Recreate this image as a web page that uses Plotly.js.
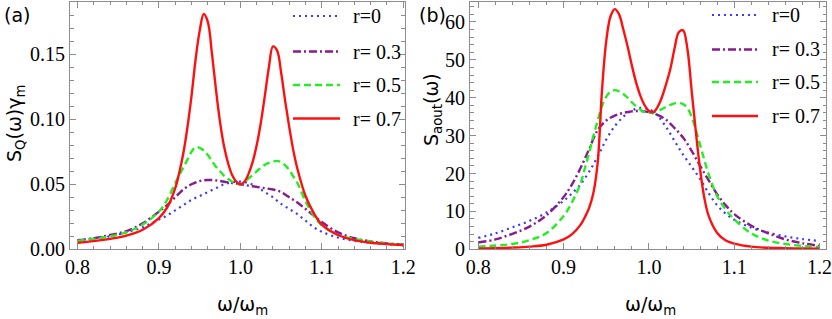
<!DOCTYPE html>
<html>
<head>
<meta charset="utf-8">
<script src="https://cdn.plot.ly/plotly-3.0.1.min.js"></script>
<style>
html,body{margin:0;padding:0;background:#fff;}
#chart{position:absolute;left:0;top:0;width:832px;height:319px;}
</style>
</head>
<body>
<div id="chart"></div>
<script>
// ---- data ----
const seriesNames = ["r=0", "r= 0.3", "r= 0.5", "r= 0.7"];
const xCoarse = [0.80,0.82,0.84,0.86,0.88,0.90,0.91,0.92,0.93,0.94,0.95,0.96,0.97,0.98,0.99,1.00,1.01,1.02,1.03,1.04,1.05,1.06,1.07,1.08,1.09,1.10,1.12,1.14,1.16,1.18,1.20];
const xFine = [0.80,0.82,0.84,0.86,0.88,0.90,0.91,0.92,0.925,0.93,0.935,0.94,0.945,0.95,0.955,0.96,0.965,0.97,0.975,0.98,0.985,0.99,0.995,1.00,1.005,1.01,1.015,1.02,1.025,1.03,1.035,1.04,1.045,1.05,1.055,1.06,1.065,1.07,1.08,1.09,1.10,1.12,1.14,1.16,1.18,1.20];

// panel (a): S_Q(w) gamma_m
const aBlue   = [0.007,0.0085,0.010,0.013,0.017,0.023,0.026,0.030,0.034,0.038,0.041,0.044,0.047,0.050,0.0515,0.052,0.051,0.048,0.044,0.040,0.035,0.031,0.027,0.022,0.017,0.0135,0.009,0.0065,0.005,0.004,0.003];
const aPurple = [0.007,0.0085,0.011,0.014,0.020,0.029,0.034,0.040,0.046,0.050,0.0525,0.0533,0.053,0.052,0.051,0.050,0.049,0.048,0.047,0.046,0.044,0.040,0.036,0.031,0.026,0.021,0.013,0.0085,0.006,0.0045,0.0035];
const aGreen  = [0.0065,0.008,0.010,0.013,0.019,0.029,0.038,0.051,0.057,0.063,0.069,0.075,0.0785,0.078,0.076,0.0725,0.068,0.0635,0.060,0.0565,0.054,0.052,0.0505,0.050,0.0515,0.0545,0.057,0.060,0.0625,0.065,0.0665,0.0675,0.068,0.067,0.0645,0.061,0.056,0.051,0.037,0.026,0.0185,0.011,0.008,0.006,0.0045,0.0035];
const aRed    = [0.005,0.0063,0.008,0.0105,0.015,0.024,0.032,0.047,0.059,0.074,0.094,0.118,0.146,0.168,0.181,0.175,0.151,0.123,0.098,0.079,0.066,0.057,0.052,0.050,0.052,0.058,0.067,0.080,0.097,0.118,0.140,0.156,0.153,0.136,0.114,0.094,0.076,0.062,0.041,0.028,0.019,0.011,0.007,0.005,0.004,0.0033];

// panel (b): S_aout(w)
const bBlue   = [3.0,4.2,5.8,7.5,9.7,12.8,14.8,17.2,20.5,24.5,29,32.5,35,36.6,37.3,37,35.3,32.3,28.6,25,21.8,18.5,14.8,11.6,9.4,7.8,5.7,4.4,3.4,2.7,2.2];
const bPurple = [1.8,2.6,4.1,6.0,9.0,13.8,17.2,21.5,26.5,31.5,34,35.3,36,36.4,36.5,36.2,35.5,34.2,32,29.5,26,22,18.2,14.5,11.6,9.3,6.2,4.2,2.6,1.6,0.9];
const bGreen  = [0.7,1.0,1.4,2.4,4.3,8.8,12.5,17.5,21.5,25.5,30,34,37.8,40.3,41.6,42,41.7,41,40,38.8,37.7,36.8,36.2,36,36.1,36.5,37,37.6,38.1,38.5,38.6,38.3,37.3,35,31.5,27.5,23.5,19.8,14,10.5,7.9,4.2,2.3,1.4,0.9,0.6];
const bRed    = [0.25,0.3,0.45,0.7,1.2,2.6,4,6.5,8.5,11,15,23,42,55,61.5,63.4,62,58,53.5,48.5,44,40.5,38,36.5,36.2,37.5,40,43.5,47.5,53,57.3,57.8,53,42,31,21,13.5,8.8,4.3,2.3,1.5,0.7,0.4,0.3,0.2,0.15];

const xTickVals = [0.8,0.9,1.0,1.1,1.2];
const xTickText = ["0.8","0.9","1.0","1.1","1.2"];
const aTickVals = [0,0.05,0.10,0.15];
const aTickText = ["0.00","0.05","0.10","0.15"];
const bTickVals = [0,10,20,30,40,50,60];
const bTickText = ["0","10","20","30","40","50","60"];
const xTitle = "ω/ω<sub>m</sub>";
const aYTitle = "S<sub>Q</sub>(ω)γ<sub>m</sub>";
const bYTitle = "S<sub>aout</sub>(ω)";

// ---- styles ----
const styles = [
  {color:"#3a3aff", width:2.2, dash:"2px,4px"},
  {color:"#8a1a8f", width:2.4, dash:"8px,3px,2px,3px"},
  {color:"#22ee22", width:2.4, dash:"7px,4px"},
  {color:"#ff1010", width:2.4, dash:"solid"}
];

const aData = [[xCoarse,aBlue],[xCoarse,aPurple],[xFine,aGreen],[xFine,aRed]];
const bData = [[xCoarse,bBlue],[xCoarse,bPurple],[xFine,bGreen],[xFine,bRed]];

const traces = [];
aData.forEach((d,i)=>{
  traces.push({x:d[0], y:d[1], type:"scatter", mode:"lines", name:seriesNames[i], showlegend:false,
    xaxis:"x", yaxis:"y",
    line:{color:styles[i].color, width:styles[i].width, dash:styles[i].dash, shape:"spline", smoothing:1}});
});
bData.forEach((d,i)=>{
  traces.push({x:d[0], y:d[1], type:"scatter", mode:"lines", name:seriesNames[i], showlegend:false,
    xaxis:"x2", yaxis:"y2",
    line:{color:styles[i].color, width:styles[i].width, dash:styles[i].dash, shape:"spline", smoothing:1}});
});

const W = 832, H = 319;
const yDom = [1-249.3/H, 1-1.5/H];
const SERIF = "Liberation Serif";
const SANS = "DejaVu Sans";
const frameColor = "#8c8c8c";

function xax(domain, range, anchor){
  return {domain:domain, range:range, anchor:anchor, tickmode:"array", tickvals:xTickVals, ticktext:xTickText,
    ticks:"inside", ticklen:6, tickwidth:1, tickcolor:frameColor, showline:true, linecolor:frameColor, linewidth:1,
    mirror:"allticks", showgrid:false, zeroline:false, tickfont:{family:SERIF, size:20, color:"#000"}, ticklabeloverflow:"allow",
    minor:{dtick:0.02, ticks:"inside", ticklen:3.5, tickcolor:frameColor, showgrid:false}};
}
function yax(domain, range, vals, text, minorD, anchor){
  return {domain:domain, range:range, tickmode:"array", tickvals:vals, ticktext:text, anchor:anchor,
    ticks:"inside", ticklen:6, tickwidth:1, tickcolor:frameColor, showline:true, linecolor:frameColor, linewidth:1,
    mirror:"allticks", showgrid:false, zeroline:false, tickfont:{family:SERIF, size:20, color:"#000"}, ticklabeloverflow:"allow",
    minor:{dtick:minorD, ticks:"inside", ticklen:3.5, tickcolor:frameColor, showgrid:false}};
}

// ---- hand-drawn legends and titles (paper coords) ----
const legendA = {x0:293, x1:340, tx:351, rows:[16,51.5,85,118.5]};
const legendB = {x0:712, x1:758, tx:770, rows:[15,49.5,82,116]};
const shapes = [], annotations = [];
[legendA, legendB].forEach(L=>{
  L.rows.forEach((yy,i)=>{
    shapes.push({type:"line", xref:"paper", yref:"paper", x0:L.x0/W, x1:L.x1/W, y0:1-yy/H, y1:1-yy/H,
      line:{color:styles[i].color, width:styles[i].width, dash:styles[i].dash}});
    annotations.push({text:seriesNames[i], xref:"paper", yref:"paper", x:L.tx/W, y:1-yy/H, xanchor:"left", yanchor:"middle",
      showarrow:false, font:{family:SERIF, size:20, color:"#000"}});
  });
});
function ann(text, x, y, opts){
  return Object.assign({text:text, xref:"paper", yref:"paper", x:x/W, y:1-y/H, xanchor:"center", yanchor:"middle",
    showarrow:false, font:{family:SANS, size:19, color:"#000"}}, opts||{});
}
annotations.push(ann("(a)", 2, 2, {xanchor:"left", yanchor:"top"}));
annotations.push(ann("(b)", 417, 2, {xanchor:"left", yanchor:"top"}));
annotations.push(ann(xTitle, 242, 305));
annotations.push(ann(xTitle, 650, 305));
annotations.push(ann(aYTitle, 15, 124, {textangle:-90}));
annotations.push(ann(bYTitle, 432, 110, {textangle:-90}));

const layout = {
  width:W, height:H, margin:{l:0,r:0,t:0,b:0}, paper_bgcolor:"#fff", plot_bgcolor:"#fff",
  font:{family:SERIF, size:20, color:"#000"},
  xaxis: xax([70/W, 404.5/W], [0.7908, 1.2015], "y"),
  yaxis: yax(yDom, [0, 0.1906], aTickVals, aTickText, 0.01, "x"),
  xaxis2: xax([470/W, 826/W], [0.7903, 1.2075], "y2"),
  yaxis2: yax(yDom, [0, 65.4], bTickVals, bTickText, 2, "x2"),
  showlegend:false,
  shapes:shapes,
  annotations:annotations
};

Plotly.newPlot("chart", traces, layout, {displayModeBar:false, staticPlot:true});
</script>
</body>
</html>
